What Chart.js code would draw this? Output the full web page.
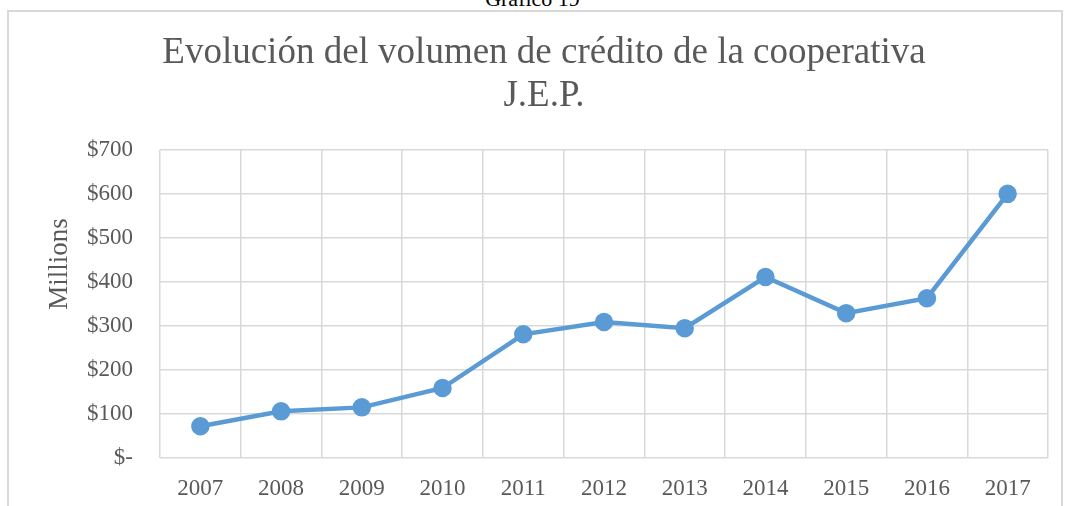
<!DOCTYPE html>
<html>
<head>
<meta charset="utf-8">
<script src="https://cdn.jsdelivr.net/npm/chart.js@4"></script>
<style>
  body { margin: 0; background: #fff; overflow: hidden; }
  #wrap { position: relative; width: 1065px; height: 506px; }
  #frame { position: absolute; left: 7px; top: 10px; width: 1052px; height: 520px; border: 2px solid #d9d9d9; border-bottom: none; }
  #cap { position: absolute; left: 0; width: 1065px; top: -14px; text-align: center; font: 22px "Liberation Serif", serif; color: #000; }
  canvas { position: absolute; left: 0; top: 0; }
</style>
</head>
<body>
<div id="wrap">
  <div id="cap">Gráfico 19</div>
  <div id="frame"></div>
  <canvas id="chart" width="1065" height="506"></canvas>
</div>
<script>
const years = ['2007', '2008', '2009', '2010', '2011', '2012', '2013', '2014', '2015', '2016', '2017']
const credito = [72, 106, 115, 159, 281, 309, 295, 411, 329, 363, 600]
const yMax = 700
const yStep = 100
const yTitle = 'Millions'

const grey = '#595959'
const gridCol = '#d9d9d9'

// Excel puts the axis title a bit above the plot centre, so draw it by hand
const axisTitle = {
    id: 'axisTitle',
    afterDraw(chart) {
        const ctx = chart.ctx
        ctx.save()
        ctx.translate(67, 264)
        ctx.rotate(-Math.PI / 2)
        ctx.font = '27px "Liberation Serif"'
        ctx.fillStyle = grey
        ctx.textAlign = 'center'
        ctx.textBaseline = 'alphabetic'
        ctx.fillText(yTitle, 0, 0)
        ctx.restore()
    }
}

new Chart(document.getElementById('chart'), {
    type: 'line',
    data: {
        labels: years,
        datasets: [{
            data: credito,
            borderColor: '#5b9bd5',
            backgroundColor: '#5b9bd5',
            borderWidth: 4.5,
            pointRadius: 7,
            pointHoverRadius: 7,
            tension: 0,
            fill: false
        }]
    },
    options: {
        responsive: false,
        animation: false,
        layout: { padding: { left: 40, right: 17, top: 0, bottom: 0 } },
        plugins: {
            legend: { display: false },
            tooltip: { enabled: false },
            title: {
                display: true,
                text: ['Evolución del volumen de crédito de la cooperativa', 'J.E.P.'],
                color: grey,
                font: { family: 'Liberation Serif', size: 37, weight: 'normal', lineHeight: 1.16 },
                padding: { top: 32, bottom: 32 }
            }
        },
        scales: {
            x: {
                offset: true,
                grid: { offset: true, color: gridCol, lineWidth: 1.5, drawTicks: false },
                border: { display: false },
                ticks: { color: grey, padding: 17, font: { family: 'Liberation Serif', size: 23 } },
                afterFit: s => { s.height = 48 }
            },
            y: {
                min: 0,
                max: yMax,
                grid: { color: gridCol, lineWidth: 1.5, drawTicks: false },
                border: { display: false },
                ticks: {
                    stepSize: yStep,
                    color: grey,
                    padding: 27,
                    font: { family: 'Liberation Serif', size: 23 },
                    callback: v => v === 0 ? '$-' : '$' + v
                },
                afterFit: s => { s.width = 120 }
            }
        }
    },
    plugins: [axisTitle]
})
</script>
</body>
</html>
